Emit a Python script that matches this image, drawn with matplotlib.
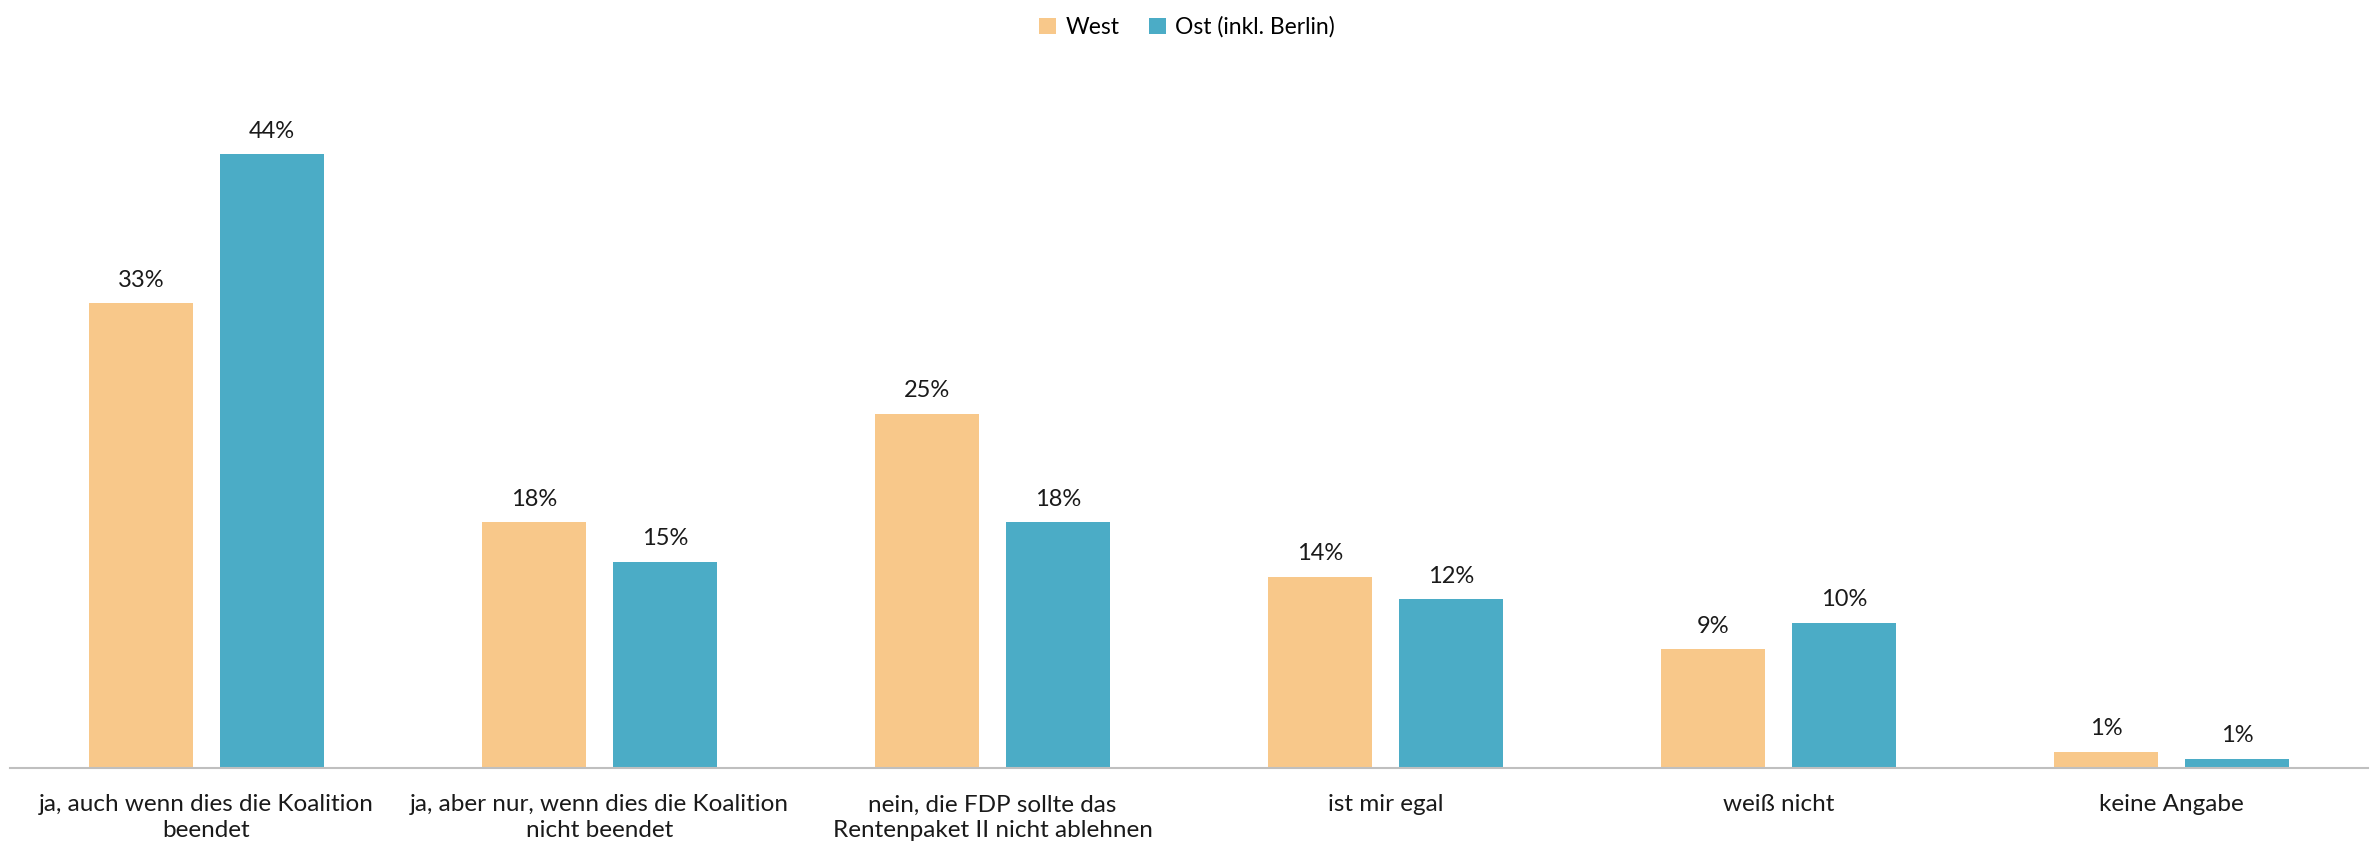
import matplotlib.pyplot as plt
import numpy as np

plt.rcParams['font.family'] = ['Lato', 'DejaVu Sans']

categories = ['ja, auch wenn dies die Koalition\nbeendet',
              'ja, aber nur, wenn dies die Koalition\nnicht beendet',
              'nein, die FDP sollte das\nRentenpaket II nicht ablehnen',
              'ist mir egal',
              'weiß nicht',
              'keine Angabe']
west = [33.3, 17.6, 25.4, 13.7, 8.5, 1.15]
ost = [44.0, 14.8, 17.6, 12.1, 10.4, 0.65]
west_labels = ['33%', '18%', '25%', '14%', '9%', '1%']
ost_labels = ['44%', '15%', '18%', '12%', '10%', '1%']

c_west = '#F8C88A'
c_ost = '#4BACC6'

fig = plt.figure(figsize=(23.74, 8.48), dpi=100)
ax = fig.add_axes([10/2374, 80/848, 2358/2374, 697.5/848])

x = np.arange(len(categories))
w = 0.267
b1 = ax.bar(x - 0.1667, west, w, color=c_west, label='West')
b2 = ax.bar(x + 0.1667, ost, w, color=c_ost, label='Ost (inkl. Berlin)')

ax.bar_label(b1, labels=west_labels, padding=9, fontsize=17, color='#1a1a1a')
ax.bar_label(b2, labels=ost_labels, padding=9, fontsize=17, color='#1a1a1a')

ax.set_xlim(-0.5, len(categories) - 0.5)
ax.set_ylim(0, 50)
ax.set_xticks(x)
ax.set_xticklabels(categories, fontsize=17.5, color='#1a1a1a', linespacing=1.3)
ax.tick_params(axis='x', length=0, pad=19)
ax.set_yticks([])
for s in ['top', 'right', 'left']:
    ax.spines[s].set_visible(False)
ax.spines['bottom'].set_color('#BFBFBF')
ax.spines['bottom'].set_linewidth(1.5)

fig.legend(loc='upper center', bbox_to_anchor=(0.5, 1.005), ncol=2, frameon=False,
           fontsize=16.5, handlelength=0.75, handleheight=0.75, handletextpad=0.4,
           columnspacing=1.3)

fig.savefig('out.png', dpi=100)
